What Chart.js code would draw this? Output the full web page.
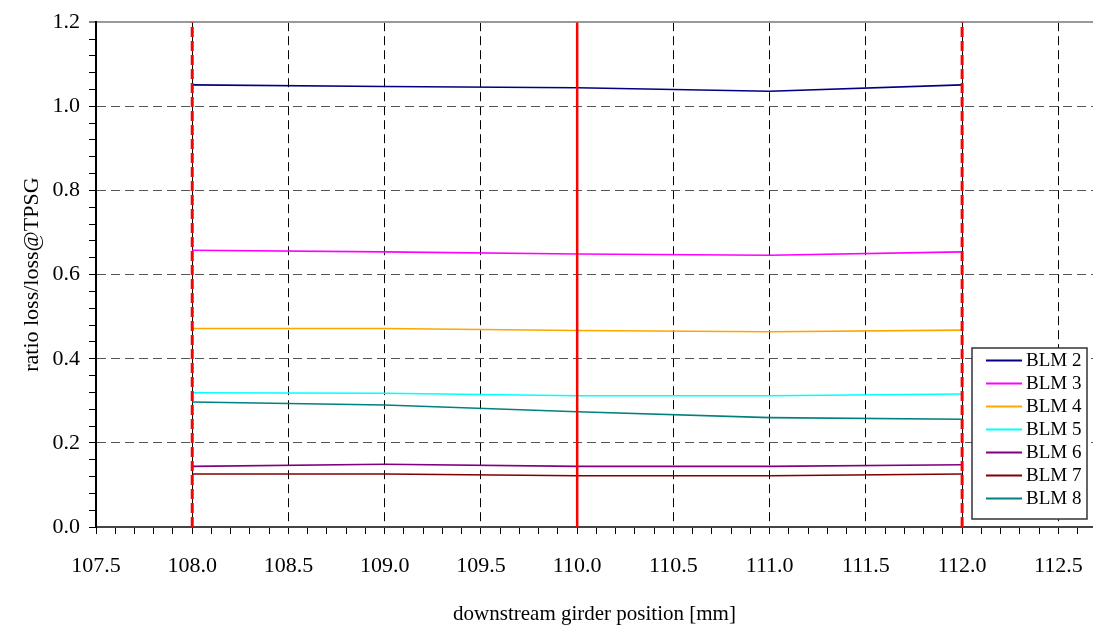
<!DOCTYPE html>
<html>
<head>
<meta charset="utf-8">
<script src="https://cdn.jsdelivr.net/npm/chart.js@4/dist/chart.umd.min.js"></script>
<style>
  html, body { margin: 0; padding: 0; background: #ffffff; }
  #wrap { width: 1093px; height: 629px; position: relative; }
</style>
</head>
<body>
<div id="wrap"><canvas id="c" width="1093" height="629"></canvas></div>
<script>
// Girder scan positions [mm]
const positions = [108, 109, 110, 111, 112];

// Loss ratio relative to the TPSG loss, one array per BLM
const blm2 = [1.051, 1.047, 1.044, 1.036, 1.051];
const blm3 = [0.658, 0.654, 0.649, 0.646, 0.654];
const blm4 = [0.472, 0.472, 0.467, 0.464, 0.468];
const blm5 = [0.319, 0.318, 0.312, 0.312, 0.316];
const blm6 = [0.144, 0.149, 0.144, 0.144, 0.148];
const blm7 = [0.126, 0.126, 0.122, 0.122, 0.126];
const blm8 = [0.297, 0.290, 0.274, 0.260, 0.256];

const seriesNames = ['BLM 2', 'BLM 3', 'BLM 4', 'BLM 5', 'BLM 6', 'BLM 7', 'BLM 8'];
const seriesValues = [blm2, blm3, blm4, blm5, blm6, blm7, blm8];
const seriesColors = ['#000080', '#ff00ff', '#ffa500', '#00ffff', '#800080', '#800000', '#008080'];

// Vertical reference positions: scan limits (dashed) and nominal (solid)
const limitPositions = [108, 112];
const nominalPositions = [110];

// Axis ranges and tick labels
const xMin = 107.5, xMax = 112.68, xMinorStep = 0.1;
const yMin = 0.0, yMax = 1.2, yMinorStep = 0.04;
const xTickLabels = [107.5, 108.0, 108.5, 109.0, 109.5, 110.0, 110.5, 111.0, 111.5, 112.0, 112.5];
const yTickLabels = [0.0, 0.2, 0.4, 0.6, 0.8, 1.0, 1.2];

const SERIF = "'Liberation Serif', 'Times New Roman', serif";

function isLabelled(v, labels) {
  return labels.some(l => Math.abs(l - v) < 1e-6);
}

function stepTicks(min, max, step) {
  const out = [];
  const n = Math.floor((max - min) / step + 1e-6);
  for (let i = 0; i <= n; i++) {
    out.push({ value: Math.round((min + i * step) * 1000) / 1000 });
  }
  return out;
}

const datasets = [];

// reference lines on top of the measurement curves
limitPositions.forEach(p => datasets.push({
  label: 'limit ' + p,
  data: [{ x: p, y: yMin }, { x: p, y: yMax }],
  borderColor: '#ff0000',
  borderWidth: 3,
  borderDash: [10, 4],
  pointRadius: 0,
  order: 0,
  isReference: true
}));
nominalPositions.forEach(p => datasets.push({
  label: 'nominal ' + p,
  data: [{ x: p, y: yMin }, { x: p, y: yMax }],
  borderColor: '#ff0000',
  borderWidth: 2.5,
  pointRadius: 0,
  order: 0,
  isReference: true
}));

seriesNames.forEach((name, i) => datasets.push({
  label: name,
  data: positions.map((x, j) => ({ x: x, y: seriesValues[i][j] })),
  borderColor: seriesColors[i],
  backgroundColor: seriesColors[i],
  borderWidth: 1.6,
  pointRadius: 0,
  tension: 0,
  order: 1
}));

// Boxed legend drawn inside the lower right corner of the plot area
const boxLegend = {
  id: 'boxLegend',
  afterDatasetsDraw(chart) {
    const { ctx, chartArea } = chart;
    const items = chart.data.datasets.filter(d => !d.isReference);
    const rowH = 23;
    const w = 115, h = items.length * rowH + 10;
    const right = chartArea.right - 6;
    const bottom = chartArea.bottom - 8;
    const left = right - w, top = bottom - h;
    ctx.save();
    ctx.fillStyle = '#ffffff';
    ctx.fillRect(left, top, w, h);
    ctx.strokeStyle = '#333333';
    ctx.lineWidth = 1.5;
    ctx.strokeRect(left, top, w, h);
    ctx.font = '19px ' + SERIF;
    ctx.textBaseline = 'middle';
    ctx.textAlign = 'left';
    items.forEach((d, i) => {
      const y = top + 12 + i * rowH + 0.5;
      ctx.strokeStyle = d.borderColor;
      ctx.lineWidth = 2;
      ctx.beginPath();
      ctx.moveTo(left + 14, y);
      ctx.lineTo(left + 50, y);
      ctx.stroke();
      ctx.fillStyle = '#000000';
      ctx.fillText(d.label, left + 54, y + 1);
    });
    ctx.restore();
  }
};

new Chart(document.getElementById('c'), {
  type: 'line',
  data: { datasets: datasets },
  plugins: [boxLegend],
  options: {
    responsive: false,
    animation: false,
    events: [],
    layout: { padding: { top: 19, right: 0, left: 0, bottom: 0 } },
    plugins: { legend: { display: false }, tooltip: { enabled: false } },
    scales: {
      x: {
        type: 'linear',
        min: xMin,
        max: xMax,
        afterBuildTicks: s => { s.ticks = stepTicks(xMin, xMax, xMinorStep); },
        afterFit: s => { s.height = 102; s.paddingLeft = 0; s.paddingRight = 0; },
        ticks: {
          autoSkip: false,
          maxRotation: 0,
          padding: 19,
          color: '#000000',
          font: { family: SERIF, size: 22 },
          callback: v => isLabelled(v, xTickLabels) ? v.toFixed(1) : ''
        },
        grid: {
          color: c => (c.tick && isLabelled(c.tick.value, xTickLabels) && c.tick.value > xMin + 1e-6) ? '#000000' : 'rgba(0,0,0,0)',
          lineWidth: 1,
          tickColor: '#000000',
          tickLength: 7,
          tickWidth: 1
        },
        border: {
          display: true,
          color: '#444444',
          width: 2,
          dash: c => c.type === 'tick' ? [9, 5] : []
        },
        title: {
          display: true,
          text: 'downstream girder position [mm]',
          color: '#000000',
          font: { family: SERIF, size: 21 },
          padding: { top: 0, bottom: 2 }
        }
      },
      y: {
        type: 'linear',
        min: yMin,
        max: yMax,
        afterBuildTicks: s => { s.ticks = stepTicks(yMin, yMax, yMinorStep); },
        afterFit: s => { s.width = 96; },
        ticks: {
          autoSkip: false,
          padding: 9,
          color: '#000000',
          font: { family: SERIF, size: 22 },
          callback: v => isLabelled(v, yTickLabels) ? v.toFixed(1) : ''
        },
        grid: {
          color: c => {
            if (!c.tick || !isLabelled(c.tick.value, yTickLabels) || c.tick.value < yMin + 1e-6) return 'rgba(0,0,0,0)';
            return c.tick.value > yMax - 1e-6 ? '#999999' : '#555555';
          },
          lineWidth: c => (c.tick && c.tick.value > yMax - 1e-6) ? 2 : 1,
          tickColor: '#000000',
          tickLength: 7,
          tickWidth: 1
        },
        border: {
          display: true,
          color: '#000000',
          width: 2,
          dash: c => {
            if (c.type !== 'tick') return [];
            return c.tick.value > yMax - 1e-6 ? [] : [9, 5];
          }
        },
        title: {
          display: true,
          text: 'ratio loss/loss@TPSG',
          color: '#000000',
          font: { family: SERIF, size: 22 },
          padding: { top: 19, bottom: 0 }
        }
      }
    }
  }
});
</script>
</body>
</html>
